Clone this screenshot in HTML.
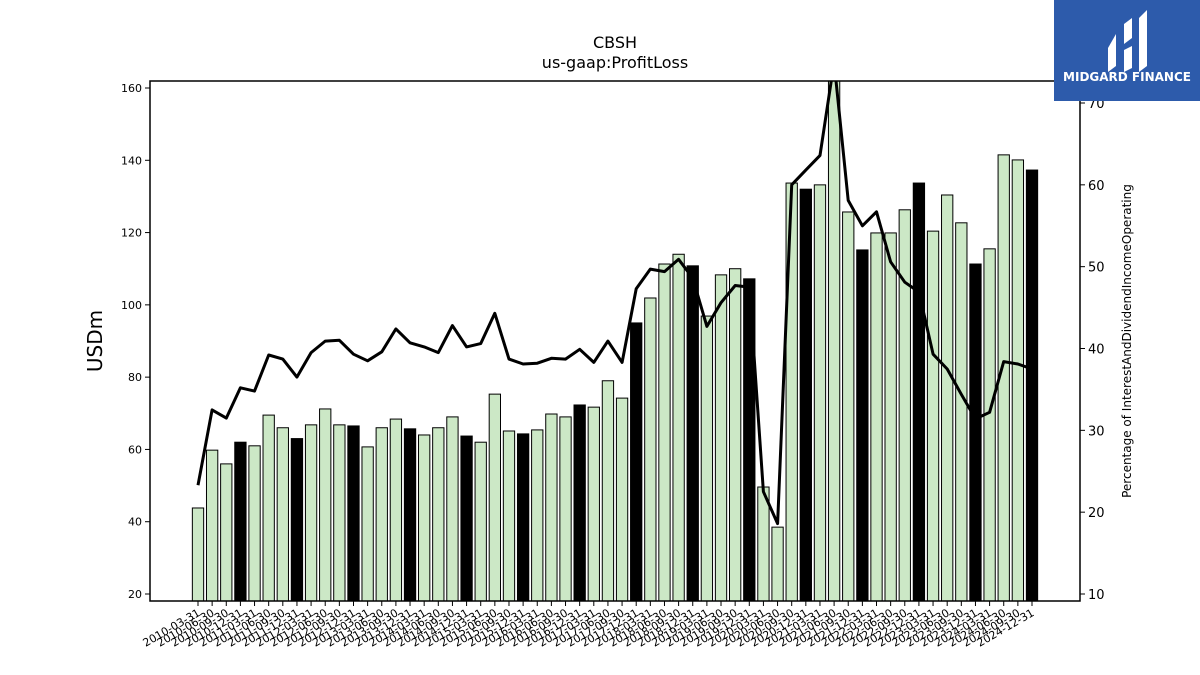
<!DOCTYPE html>
<html><head><meta charset="utf-8"><style>
html,body{margin:0;padding:0;background:#fff;}
svg{display:block;font-family:"DejaVu Sans","Liberation Sans",sans-serif;}
</style></head><body>
<svg id="chart" width="1200" height="675" viewBox="0 0 1200 675" xmlns="http://www.w3.org/2000/svg">
<rect width="1200" height="675" fill="#fff"/>
<text x="615" y="48" font-size="16" text-anchor="middle">CBSH</text>
<text x="615" y="68" font-size="16" text-anchor="middle">us-gaap:ProfitLoss</text>
<text x="102" y="341" font-size="20" text-anchor="middle" transform="rotate(-90 102 341)">USDm</text>
<text x="1131" y="341" font-size="12" text-anchor="middle" transform="rotate(-90 1131 341)">Percentage of InterestAndDividendIncomeOperating</text>
<g id="plot"></g>
<g>
<rect x="1054" y="0" width="146" height="101" fill="#2d5bab"/>
<path d="M1108 48 L1116 34 L1116 66 L1108 72 Z" fill="#fff"/>
<path d="M1124 24 L1132 18 L1132 38 L1124 44 Z M1124 50 L1132 46 L1132 68 L1124 72 Z" fill="#fff"/>
<path d="M1139 18 L1147 10 L1147 66 L1139 72 Z" fill="#fff"/>
<text x="1127" y="81" font-size="12" font-weight="bold" fill="#fff" text-anchor="middle">MIDGARD FINANCE</text>
</g>
</svg>
<script>
const categories = ["2010-03-31","2010-06-30","2010-09-30","2010-12-31","2011-03-31","2011-06-30","2011-09-30","2011-12-31","2012-03-31","2012-06-30","2012-09-30","2012-12-31","2013-03-31","2013-06-30","2013-09-30","2013-12-31","2014-03-31","2014-06-30","2014-09-30","2014-12-31","2015-03-31","2015-06-30","2015-09-30","2015-12-31","2016-03-31","2016-06-30","2016-09-30","2016-12-31","2017-03-31","2017-06-30","2017-09-30","2017-12-31","2018-03-31","2018-06-30","2018-09-30","2018-12-31","2019-03-31","2019-06-30","2019-09-30","2019-12-31","2020-03-31","2020-06-30","2020-09-30","2020-12-31","2021-03-31","2021-06-30","2021-09-30","2021-12-31","2022-03-31","2022-06-30","2022-09-30","2022-12-31","2023-03-31","2023-06-30","2023-09-30","2023-12-31","2024-03-31","2024-06-30","2024-09-30","2024-12-31"];
const profitLoss = [43.8,59.8,56,62,61,69.5,66,63,66.8,71.2,66.8,66.5,60.7,66,68.4,65.7,64,66,69,63.7,62,75.3,65.1,64.3,65.4,69.8,69,72.3,71.7,79,74.2,95,101.9,111.3,114,110.8,96.9,108.3,110,107.2,49.6,38.5,133.7,132,133.2,165,125.7,115.2,119.9,119.9,126.3,133.7,120.4,130.4,122.7,111.3,115.5,141.5,140.1,137.3];
const pctInterest = [23.3,32.5,31.5,35.2,34.8,39.2,38.7,36.5,39.5,40.9,41,39.3,38.5,39.6,42.4,40.7,40.2,39.5,42.8,40.2,40.6,44.3,38.7,38.1,38.2,38.8,38.7,39.9,38.3,40.9,38.3,47.3,49.7,49.4,50.9,48.6,42.7,45.6,47.7,47.5,22.5,18.6,60,61.8,63.6,75,58.1,55,56.7,50.6,48.1,46.9,39.3,37.5,34.4,31.4,32.2,38.4,38.1,37.5];
const leftTicks = [20,40,60,80,100,120,140,160];
const rightTicks = [10,20,30,40,50,60,70];

const NS="http://www.w3.org/2000/svg";
const L=150,R=1080,T=81,B=601;
const x0=198, step=(1032-198)/59;
function xs(i){return x0+i*step;}
function yl(v){return 594-(v-20)*(506/140);}
function yr(v){return 594-(v-10)*(491/60);}
const plot=document.getElementById('plot');
function mk(tag,attrs,parent){const e=document.createElementNS(NS,tag);for(const k in attrs)e.setAttribute(k,attrs[k]);(parent||plot).appendChild(e);return e;}

const clip=mk('clipPath',{id:'cp'});
mk('rect',{x:L,y:T,width:R-L,height:B-T},clip);
const barsG=mk('g',{'clip-path':'url(#cp)'});


const bw=step*0.8;
profitLoss.forEach((v,i)=>{
  const y=yl(v);
  const r=mk('rect',{x:xs(i)-bw/2,y:y,width:bw,height:B-y,fill:(i%4===3)?'#000':'#cce8c6',stroke:'#000','stroke-width':1},barsG);
  
  
});
const pts=pctInterest.map((v,i)=>xs(i).toFixed(1)+','+yr(v).toFixed(1)).join(' ');
const line=mk('polyline',{points:pts,fill:'none',stroke:'#000','stroke-width':3,'stroke-linejoin':'round','clip-path':'url(#cp)'});



const frame=mk('rect',{x:L,y:T,width:R-L,height:B-T,fill:'none',stroke:'#000','stroke-width':1.5});



leftTicks.forEach(v=>{
  const y=yl(v);
  mk('line',{x1:L-5,x2:L,y1:y,y2:y,stroke:'#000'});
  const t=mk('text',{x:L-8,y:y+4,'font-size':11,'text-anchor':'end'});
  t.textContent=v;
  
  
});
rightTicks.forEach(v=>{
  const y=yr(v);
  mk('line',{x1:R,x2:R+5,y1:y,y2:y,stroke:'#000'});
  const t=mk('text',{x:R+8,y:y+5,'font-size':13});
  t.textContent=v;
  
  
});
categories.forEach((c,i)=>{
  const x=xs(i);
  mk('line',{x1:x,x2:x,y1:B,y2:B+5,stroke:'#000'});
  const t=mk('text',{x:x+3,y:B+14,'font-size':11,'text-anchor':'end',transform:`rotate(-30 ${x+3} ${B+14})`});
  t.textContent=c;
  
  
});
</script>
</body></html>
